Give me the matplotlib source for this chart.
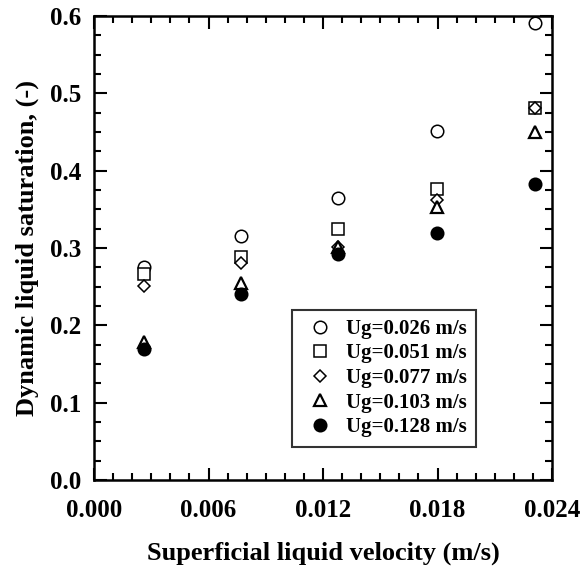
import matplotlib.pyplot as plt
from matplotlib.ticker import MultipleLocator, FormatStrFormatter

plt.rcParams['font.family'] = ['Liberation Serif', 'DejaVu Serif']
plt.rcParams['font.weight'] = 'bold'

# superficial liquid velocity (m/s)
ul = [0.0026, 0.0077, 0.0128, 0.0180, 0.0231]

# dynamic liquid saturation for each gas velocity
sat_026 = [0.276, 0.316, 0.365, 0.451, 0.591]
sat_051 = [0.266, 0.289, 0.324, 0.376, 0.481]
sat_077 = [0.251, 0.281, 0.301, 0.362, 0.481]
sat_103 = [0.178, 0.255, 0.301, 0.353, 0.450]
sat_128 = [0.169, 0.240, 0.292, 0.320, 0.383]

labels = ['Ug=0.026 m/s', 'Ug=0.051 m/s', 'Ug=0.077 m/s',
          'Ug=0.103 m/s', 'Ug=0.128 m/s']

fig = plt.figure(figsize=(5.82, 5.75), dpi=100)
ax = fig.add_axes([94 / 582, 95 / 575, 458 / 582, 464 / 575])

ms = 9
ax.plot(ul, sat_026, 'o', mfc='white', mec='black', mew=1.1, ms=ms, label=labels[0])
ax.plot(ul, sat_051, 's', mfc='white', mec='black', mew=1.1, ms=ms - 0.5, label=labels[1])
ax.plot(ul, sat_077, 'D', mfc='white', mec='black', mew=1.1, ms=ms - 2.5, label=labels[2])
ax.plot(ul, sat_103, '^', mfc='white', mec='black', mew=1.6, ms=ms - 1, label=labels[3])
ax.plot(ul, sat_128, 'o', mfc='black', mec='black', mew=1.1, ms=ms, label=labels[4])

ax.set_xlim(0, 0.024)
ax.set_ylim(0, 0.6)
ax.xaxis.set_major_locator(MultipleLocator(0.006))
ax.xaxis.set_minor_locator(MultipleLocator(0.001))
ax.yaxis.set_major_locator(MultipleLocator(0.1))
ax.yaxis.set_minor_locator(MultipleLocator(0.025))
ax.xaxis.set_major_formatter(FormatStrFormatter('%.3f'))
ax.yaxis.set_major_formatter(FormatStrFormatter('%.1f'))

for s in ax.spines.values():
    s.set_linewidth(1.8)
ax.tick_params(which='both', direction='in', top=True, right=True, width=1.5)
ax.tick_params(which='major', length=9, labelsize=18)
ax.tick_params(which='minor', length=5)
ax.tick_params(axis='x', which='major', pad=14)
ax.tick_params(axis='y', which='major', pad=9)

ax.set_xlabel('Superficial liquid velocity (m/s)', fontsize=19, fontweight='bold', labelpad=14)
ax.set_ylabel('Dynamic liquid saturation, (-)', fontsize=19, fontweight='bold', labelpad=8)

leg = ax.legend(loc='lower left', bbox_to_anchor=(0.432, 0.072, 0.401, 0.288),
                mode='expand', fontsize=15, frameon=True, fancybox=False,
                handlelength=1.8, handletextpad=0.36, labelspacing=0.22,
                borderpad=0.45, borderaxespad=0)
leg.get_frame().set_edgecolor('black')
leg.get_frame().set_linewidth(1.5)

fig.savefig('out.png', dpi=100)
